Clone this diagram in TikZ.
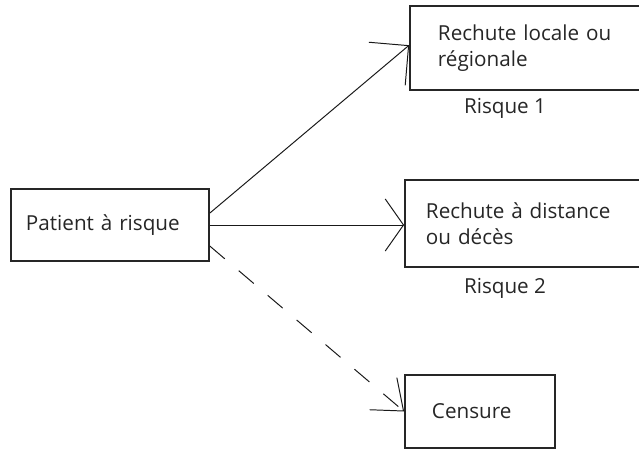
\documentclass[tikz,border=0pt]{standalone}
\usepackage{fontspec}
\setmainfont{Open Sans}
\usetikzlibrary{arrows.meta, positioning}

\begin{document}
\begin{tikzpicture}[x=0.025cm, y=-0.025cm,
		font=\fontsize{14.7}{18.5}\selectfont, text=black!85,
		box/.style={draw=black!85, line width=1.2pt, align=left, inner ysep=0pt},
		fleche/.style={line width=0.7pt, draw=black!90}]
		
		% cadre
		\path[use as bounding box, clip] (0,0) rectangle (639,450);
		
		% patient
		\node[box, minimum width=4.95cm, minimum height=1.8cm, inner xsep=0.375cm, text width=4.2cm] (patient) at (110,225) {Patient à risque\\[4pt]};
		
		% rechutes
		\node[box, minimum width=6.25cm, minimum height=2.1cm, inner xsep=0.7cm, text width=4.85cm] (rech1) at (535,48) {Rechute locale ou\\régionale};
		\node[box, minimum width=6.375cm, minimum height=2.175cm, inner xsep=0.525cm, text width=5.325cm] (rech2) at (532.5,223.5) {Rechute à distance\\ou décès};
		
		% censure
		\node[box, minimum width=3.75cm, minimum height=1.825cm, inner xsep=0.675cm, text width=2.4cm] (censure) at (480,411.5) {Censure\\[2pt]};
		
		% risques
		\node (risque1) at (505,108) {Risque 1};
		\node (risque2) at (505,288) {Risque 2};
		
		% fleches
		\draw[fleche, -{Straight Barb[length=20pt, width=40pt]}] ([yshift=8.5pt]patient.east) -- ([yshift=2pt]rech1.west);
		\draw[fleche, -{Straight Barb[length=13pt, width=37pt]}] (patient.east) -- (patient.east -| rech2.west);
		\draw[fleche, dash pattern=on 14pt off 13pt, -{Straight Barb[length=19pt, width=30pt]}] ([yshift=-15pt]patient.east) -- (censure.west);
\end{tikzpicture}
\end{document}
